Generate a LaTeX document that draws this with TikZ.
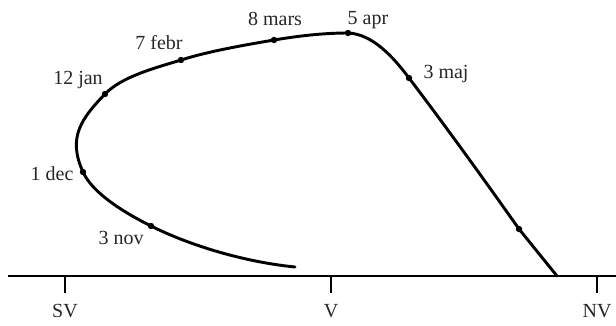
\documentclass[tikz,border=0pt]{standalone}
\usepackage{fontspec}
\setmainfont{Liberation Serif}
\begin{document}
\begin{tikzpicture}[x=0.75pt,y=-0.75pt,
  dot/.style={circle,fill=black,inner sep=0pt,minimum size=4.8pt},
  lbl/.style={font=\fontsize{15}{18}\selectfont,text=black!85,inner sep=0pt},
  curve/.style={line width=2.2pt,line cap=round,line join=round},
  axis/.style={line width=1pt},
  tick/.style={line width=1pt}]
\useasboundingbox (0,0) rectangle (616,325);
% axis
\coordinate (axL) at (8,276);
\coordinate (axR) at (616,276);
\draw[axis] (axL) -- (axR);
\coordinate (tSV) at (65,276); \coordinate (tSVb) at (65,293);
\coordinate (tV) at (331,276); \coordinate (tVb) at (331,293);
\coordinate (tNV) at (597,276); \coordinate (tNVb) at (597,293);
\draw[tick] (tSV) -- (tSVb);
\draw[tick] (tV) -- (tVb);
\draw[tick] (tNV) -- (tNVb);
\node[lbl] (SV) at (65,311) {SV};
\node[lbl] (V) at (331,311) {V};
\node[lbl] (NV) at (597,311) {NV};
% curve points
\coordinate (p0) at (295,267);
\coordinate (pnov) at (151,226);
\coordinate (pdec) at (83,172);
\coordinate (pjan) at (105,94);
\coordinate (pfeb) at (181,60);
\coordinate (pmar) at (274,40);
\coordinate (papr) at (348,33);
\coordinate (pmaj) at (409,78);
\coordinate (pjun) at (519,229);
\coordinate (pend) at (557,276);
\draw[curve] (p0)
  .. controls (245,262) and (191,246) .. (pnov)
  .. controls (126,213.5) and (93,194) .. (pdec)
  .. controls (67,137) and (82,118) .. (pjan)
  .. controls (122.5,76) and (157,67.5) .. (pfeb)
  .. controls (209.5,51) and (245,45) .. (pmar)
  .. controls (298,36) and (323,33) .. (papr)
  .. controls (373,34) and (394,58) .. (pmaj)
  .. controls (450,132) and (490,188) .. (pjun)
  -- (pend);
\foreach \p in {pnov,pdec,pjan,pfeb,pmar,papr,pmaj,pjun}
  \node[dot] (d\p) at (\p) {};
% labels
\node[lbl] (lnov) at (121,238) {3 nov};
\node[lbl] (ldec) at (52,174) {1 dec};
\node[lbl] (ljan) at (78,80) {12 jan};
\node[lbl] (lfeb) at (159,43) {7 febr};
\node[lbl] (lmar) at (275,19) {8 mars};
\node[lbl] (lapr) at (368,20) {5 apr};
\node[lbl] (lmaj) at (446,74) {3 maj};
\end{tikzpicture}
\end{document}
